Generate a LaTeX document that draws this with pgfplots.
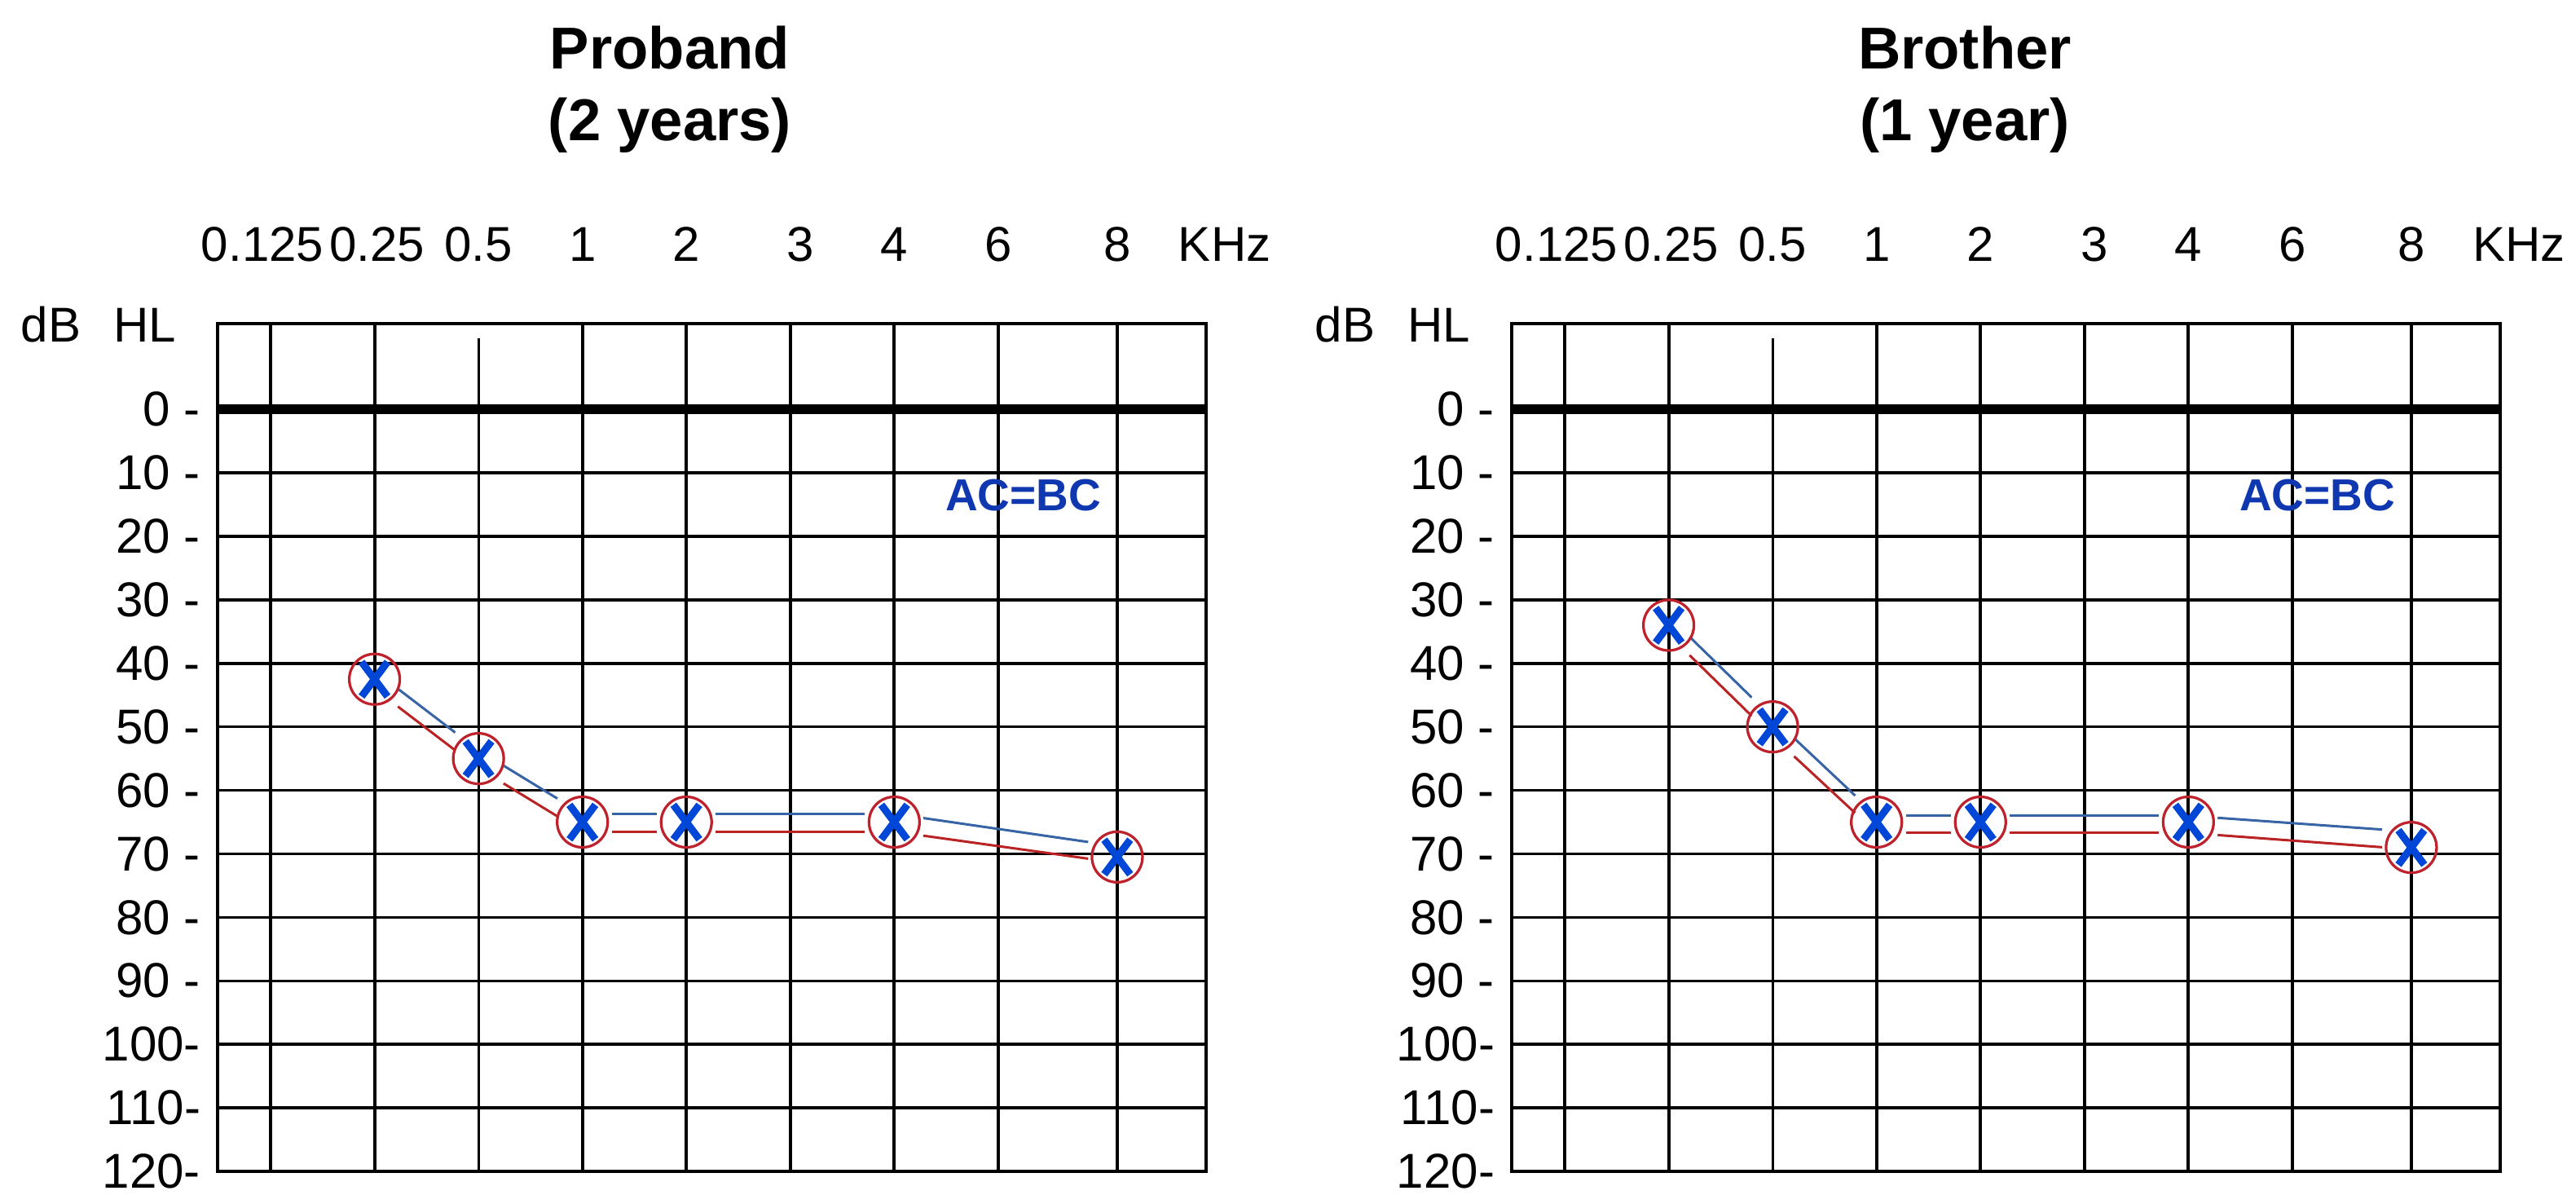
\documentclass[border=0pt]{standalone}
\usepackage{fontspec}
\setmainfont{Liberation Sans}
\usepackage{pgfplots}
\usepackage{pgfplotstable}
\pgfplotsset{compat=1.18}

\definecolor{xblue}{RGB}{0,70,215}
\definecolor{oRed}{RGB}{190,35,45}
\definecolor{lnblue}{RGB}{55,100,165}
\definecolor{lnred}{RGB}{185,35,35}
\definecolor{acblue}{RGB}{15,55,175}

\newcommand{\ticklab}{\fontsize{12}{14}\selectfont}
\newcommand{\titlefont}{\fontsize{14.5}{17}\selectfont\bfseries}

% frequency index: 0.125=0, 0.25=1, 0.5=2, 1=3, 2=4, 3=5, 4=6, 6=7, 8=8.145
\pgfplotstableread{
f     ac
1     42.5
2     55
3     65
4     65
6     65
8.145 70.5
}\probandac
\pgfplotstableread{
x  y     u     v
1  41.2  1     12.5
2  53.7  1     10
3  63.7  1     0
4  63.7  2     0
6  63.7  2.145 5.1
}\probandblue
\pgfplotstableread{
x  y     u     v
1  44    1     12.5
2  56.5  1     10
3  66.5  1     0
4  66.5  2     0
6  66.5  2.145 4.9
}\probandred

\pgfplotstableread{
f     ac
1     34
2     50
3     65
4     65
6     65
8.145 69
}\brotherac
\pgfplotstableread{
x  y     u     v
1  32.6  1     16
2  48.6  1     15.4
3  64    1     0
4  64    2     0
6  64    2.145 2.5
}\brotherblue
\pgfplotstableread{
x  y     u     v
1  35.5  1     16
2  51.5  1     15.2
3  66.7  1     0
4  66.7  2     0
6  66.7  2.145 2.6
}\brotherred

\pgfplotsset{
  audiogram/.style={
    scale only axis, width=242.6pt, height=208pt,
    xmin=-0.51, xmax=9, ymin=-13.5, ymax=120, y dir=reverse,
    clip=false,
    axis line style={line width=0.8pt},
    xtick={0,1,2,3,4,5,6,7,8.145},
    xticklabels={{\hspace*{-4pt}0.125},{\hspace*{1.2pt}0.25},0.5,1,2,{\hspace*{4.8pt}3},4,6,8},
    xticklabel pos=upper,
    ytick={0,10,...,120},
    yticklabels={0 -,10 -,20 -,30 -,40 -,50 -,60 -,70 -,80 -,90 -,100-,110-,120-},
    major tick length=0pt,
    ymajorgrids,
    grid style={black, line width=0.7pt},
    extra x ticks={0,1,3,4,5,6,7,8.145},
    extra x tick labels={},
    extra x tick style={grid=major, major grid style={black, line width=0.8pt}},
    xticklabel style={font=\ticklab, anchor=base, inner sep=0pt, yshift=15.2pt},
    yticklabel style={font=\ticklab, anchor=east, inner sep=0pt, xshift=-4pt},
  },
  conn/.style={line width=0.6pt,
    quiver={u=\thisrow{u}, v=\thisrow{v},
      every arrow/.append style={shorten <=7.2pt, shorten >=7.2pt}}},
  ocirc/.style={only marks, mark=o, mark size=6.2pt,
    mark options={draw=oRed, line width=0.65pt}},
  xcross/.style={only marks, mark=x, mark size=6pt,
    mark options={draw=xblue, line width=1.8pt, xscale=0.75}},
}

\begin{document}
\begin{tikzpicture}
\path[use as bounding box] (0,0) rectangle (632.2pt,293.2pt);

% titles
\node[font=\titlefont, anchor=base] at (164.4pt,276.2pt) {Proband};
\node[font=\titlefont, anchor=base] at (164.4pt,258.6pt) {(2 years)};
\node[font=\titlefont, anchor=base] at (482.2pt,276.2pt) {Brother};
\node[font=\titlefont, anchor=base] at (482.2pt,258.6pt) {(1 year)};

\begin{axis}[audiogram, at={(53.4pt,5.8pt)}, anchor=south west]
  \draw[line width=2.4pt] (axis cs:-0.51,0) -- (axis cs:9,0);
  \draw[line width=0.55pt] (axis cs:2,-11.2) -- (axis cs:2,120);
  \addplot[conn, lnblue] table {\probandblue};
  \addplot[conn, lnred] table {\probandred};
  \addplot[ocirc] table[x=f, y=ac] {\probandac};
  \addplot[xcross] table[x=f, y=ac] {\probandac};
  \node[font=\fontsize{11}{13}\selectfont\bfseries, text=acblue] at (axis cs:7.24,13.5) {AC=BC};
  \node[font=\ticklab, anchor=base east, inner sep=0pt] at ([xshift=-10pt, yshift=-4.6pt]axis cs:-0.51,-13.5) {dB\hspace{8pt}HL};
  \node[font=\ticklab, anchor=base west, inner sep=0pt] at ([xshift=-7pt, yshift=15.2pt]axis cs:9,-13.5) {KHz};
\end{axis}

\begin{axis}[audiogram, at={(371pt,5.8pt)}, anchor=south west]
  \draw[line width=2.4pt] (axis cs:-0.51,0) -- (axis cs:9,0);
  \draw[line width=0.55pt] (axis cs:2,-11.2) -- (axis cs:2,120);
  \addplot[conn, lnblue] table {\brotherblue};
  \addplot[conn, lnred] table {\brotherred};
  \addplot[ocirc] table[x=f, y=ac] {\brotherac};
  \addplot[xcross] table[x=f, y=ac] {\brotherac};
  \node[font=\fontsize{11}{13}\selectfont\bfseries, text=acblue] at (axis cs:7.24,13.5) {AC=BC};
  \node[font=\ticklab, anchor=base east, inner sep=0pt] at ([xshift=-10pt, yshift=-4.6pt]axis cs:-0.51,-13.5) {dB\hspace{8pt}HL};
  \node[font=\ticklab, anchor=base west, inner sep=0pt] at ([xshift=-7pt, yshift=15.2pt]axis cs:9,-13.5) {KHz};
\end{axis}
\end{tikzpicture}
\end{document}
